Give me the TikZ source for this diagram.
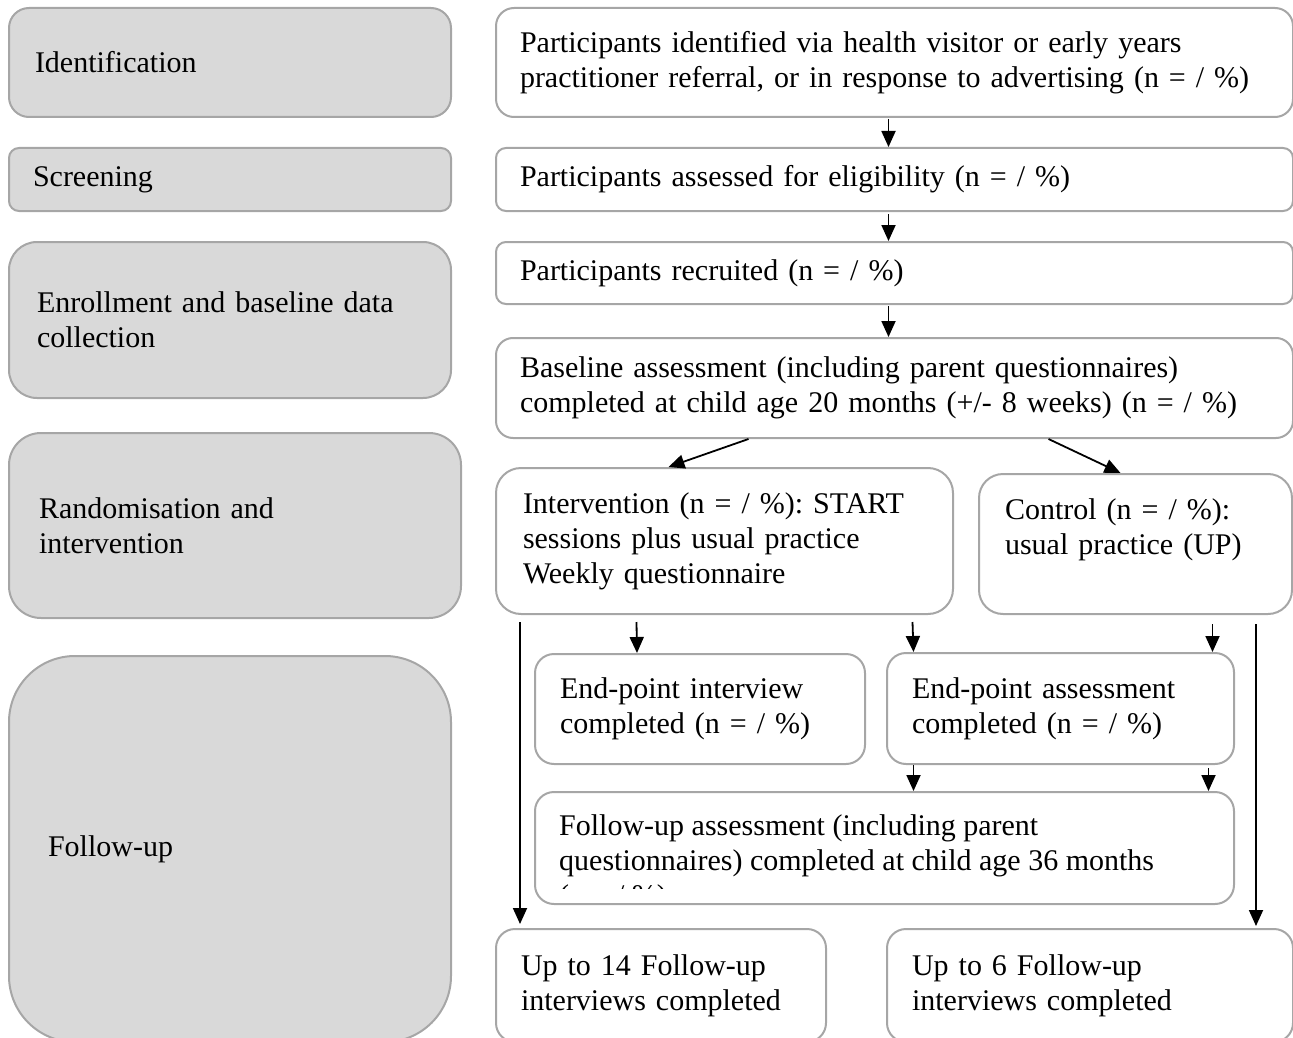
\documentclass[tikz,border=0pt]{standalone}
\usepackage{fontspec}
\setmainfont{Liberation Serif}
\usetikzlibrary{arrows.meta,calc}
\definecolor{stagegray}{HTML}{D9D9D9}
\definecolor{framegray}{HTML}{A6A6A6}
\frenchspacing

\begin{document}
\begin{tikzpicture}[x=1pt,y=-1pt]
    % Define styles for boxes and arrows
    \tikzstyle{stage}=[draw=framegray,fill=stagegray,line width=2pt,anchor=north west,align=left,inner ysep=0pt,font=\fontsize{30}{35}\selectfont]
    \tikzstyle{box}=[draw=framegray,fill=white,line width=2pt,anchor=north west,align=left,inner xsep=24pt,inner ysep=0pt,font=\fontsize{30}{35}\selectfont]
    \tikzstyle{txt}=[align=left,inner sep=0pt,font=\fontsize{30}{35}\selectfont]
    \tikzstyle{arr}=[-{Triangle[length=16pt,width=14pt]},line width=1.8pt]

    \useasboundingbox (0,0) rectangle (1293,1038);
    \clip (0,0) rectangle (1293,1038);

    % Stages (left column)
    \node[stage,minimum height=109pt,inner xsep=26pt,text width=390pt,rounded corners=20pt] (sIdent) at (8,7) {Identification};
    \node[stage,minimum height=63pt,inner xsep=24pt,text width=394pt,rounded corners=10pt] (sScreen) at (8,147) {Screening};
    \node[stage,minimum height=156pt,inner xsep=28pt,text width=386pt,rounded corners=28pt] (sEnrol) at (8,241) {Enrollment and baseline data\\collection};
    \node[stage,minimum height=185pt,inner xsep=30pt,text width=392pt,rounded corners=32pt] (sRandom) at (8,432) {Randomisation and\\intervention};
    \node[stage,minimum height=386pt,inner xsep=39pt,text width=364pt,rounded corners=66pt] (sFollow) at (8,655) {Follow-up};

    % Recruitment boxes
    \node[box,minimum height=109pt,text width=749pt,rounded corners=18pt] (ident) at (495,7) {Participants identified via health visitor or early years\\practitioner referral, or in response to advertising (n = / \%)};
    \node[box,minimum height=63pt,text width=749pt,rounded corners=10pt] (elig) at (495,147) {Participants assessed for eligibility (n = / \%)};
    \node[box,minimum height=62pt,text width=749pt,rounded corners=10pt] (recr) at (495,241) {Participants recruited (n = / \%)};
    \node[box,minimum height=100pt,text width=749pt,rounded corners=17pt] (base) at (495,337) {Baseline assessment (including parent questionnaires)\\completed at child age 20 months (+/- 8 weeks) (n = / \%)};

    % Randomised arms
    \node[box,minimum height=146pt,inner xsep=27pt,text width=403pt,rounded corners=25pt] (intv) at (495,467) {Intervention (n = / \%): START\\sessions plus usual practice\\Weekly questionnaire};
    \node[box,minimum height=140pt,inner xsep=26pt,text width=261pt,rounded corners=24pt] (ctrl) at (978,473) {Control (n = / \%):\\usual practice (UP)\\\mbox{}};

    % Follow-up boxes
    \node[box,minimum height=110pt,inner xsep=25pt,text width=280pt,rounded corners=19pt] (gint) at (534,653) {End-point interview\\completed (n = / \%)};
    \node[box,minimum height=111pt,inner xsep=25pt,text width=297pt,rounded corners=19pt] (gass) at (886,652) {End-point assessment\\completed (n = / \%)};
    \node[box,minimum height=112pt,inner xsep=25pt,text width=649pt,rounded corners=19pt] (fupa) at (534,791) {};
    \begin{scope}
        \clip ($(fupa.north west)+(2,2)$) rectangle ($(fupa.south east)+(-2,-17)$);
        \node[txt,anchor=north west] (fupatext) at ($(fupa.north west)+(25,23)$) {Follow-up assessment (including parent\\questionnaires) completed at child age 36 months\\(n = / \%)};
    \end{scope}
    \node[box,minimum height=113pt,inner xsep=25pt,text width=280pt,rounded corners=19pt] (up14) at (495,928) {Up to 14 Follow-up\\interviews completed};
    \node[box,minimum height=113pt,inner xsep=25pt,text width=356pt,rounded corners=19pt] (up6) at (886,928) {Up to 6 Follow-up\\interviews completed};

    % Arrows
    \draw[arr] ($(ident.south)+(-6,1)$) -- ($(elig.north)+(-6,0)$);
    \draw[arr] ($(elig.south)+(-6,2)$) -- ($(recr.north)+(-6,0)$);
    \draw[arr] ($(recr.south)+(-6,1)$) -- ($(base.north)+(-6,0)$);
    \draw[arr] ($(base.south)+(-146,0)$) -- ($(intv.north)+(-56,0)$);
    \draw[arr] ($(base.south)+(154,0)$) -- ($(ctrl.north)+(-15,0)$);
    \draw[arr] ($(intv.south)+(-88,7)$) -- ($(gint.north)+(-63,0)$);
    \draw[arr] ($(intv.south)+(188,7)$) -- ($(gass.north)+(-147,0)$);
    \draw[arr] ($(ctrl.south)+(77,9)$) -- ($(gass.north)+(152,0)$);
    \draw[arr] ($(gass.south)+(-147,0)$) -- ($(fupa.north)+(29,0)$);
    \draw[arr] ($(gass.south)+(148,3)$) -- ($(fupa.north)+(324,0)$);
    \draw[arr] ($(intv.south)+(-204.5,7)$) -- ($(up14.north)+(-141,-4)$);
    \draw[arr] ($(ctrl.south)+(120.5,9)$) -- ($(up6.north)+(166,-2)$);
\end{tikzpicture}
\end{document}
